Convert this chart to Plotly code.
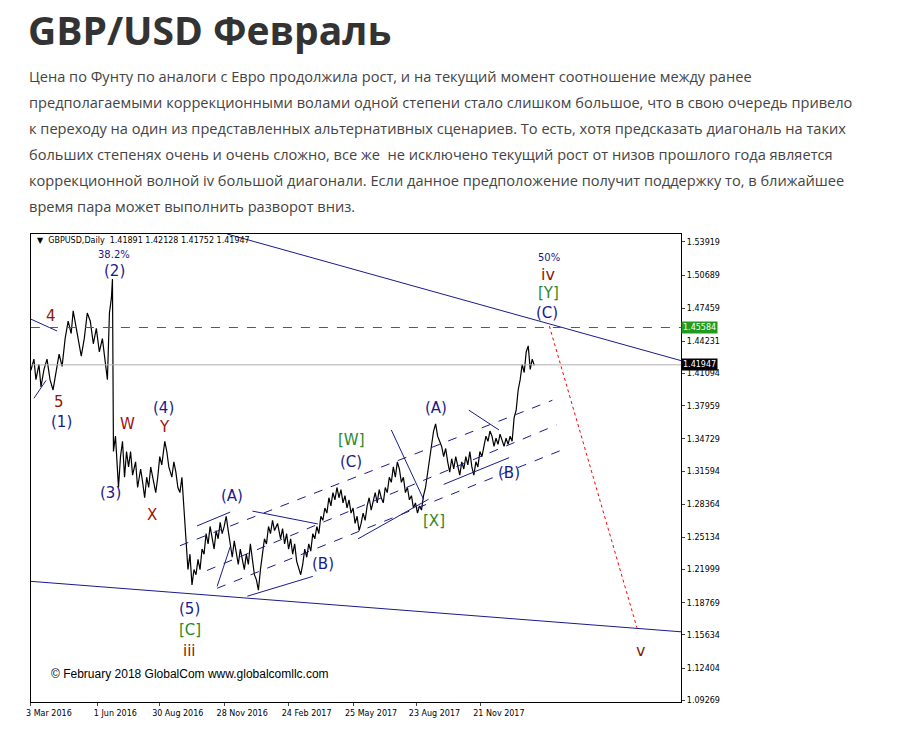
import plotly.graph_objects as go

W, H = 912, 729
OFF = 8  # browser body margin
FW, FH = W - 2 * OFF, H - 2 * OFF

# ---- data (bar index, close) ----
bars = [0, 3, 5, 8, 10, 13, 16, 19, 22, 25, 28, 31, 34, 37, 40, 42, 45, 48, 50, 53, 56, 59, 62, 65, 68, 71, 74, 76,
        78, 80, 81, 82, 84, 86, 87, 89, 91, 93, 95, 97, 99, 101, 104, 106, 109, 111, 113, 115, 117, 119, 122, 124,
        126, 128, 130, 133, 135, 137, 140, 142, 144, 146, 148, 150, 152, 154, 156, 158, 160, 162, 164, 166, 168,
        170, 172, 174, 176, 178, 180, 182, 184, 186, 188, 190, 192, 194, 196, 198, 200, 202, 204, 206, 208, 210,
        212, 214, 216, 218, 220, 222, 224, 226, 228, 230, 232, 234, 236, 238, 240, 242, 245, 248, 250, 252, 254,
        256, 258, 260, 262, 264, 266, 268, 270, 272, 274, 276, 278, 280, 282, 284, 286, 288, 290, 292, 294, 296,
        298, 300, 302, 304, 306, 308, 310, 312, 314, 316, 318, 320, 322, 324, 326, 328, 330, 332, 334, 336, 338,
        340, 342, 344, 346, 348, 350, 352, 354, 356, 358, 360, 362, 364, 366, 368, 370, 372, 374, 376, 378, 380,
        382, 384, 386, 388, 390, 392, 394, 396, 398, 400, 402, 404, 406, 408, 410, 412, 414, 416, 418, 420, 422,
        424, 426, 428, 430, 432, 434, 436, 438, 440, 442, 444, 446, 448, 450, 452, 454, 456, 458, 460, 462, 464,
        466, 468, 470, 472, 474, 476, 478, 480, 482, 484, 486, 488, 490, 492, 494, 496, 498, 500]
closes = [1.414, 1.425, 1.405, 1.420, 1.398, 1.415, 1.425, 1.405, 1.395, 1.412, 1.430, 1.418, 1.445, 1.462, 1.450,
          1.472, 1.455, 1.440, 1.428, 1.445, 1.470, 1.462, 1.440, 1.455, 1.432, 1.445, 1.420, 1.405,
          1.470, 1.485, 1.503, 1.335, 1.350, 1.320, 1.300, 1.330, 1.345, 1.310, 1.335, 1.320, 1.335, 1.312, 1.325,
          1.300, 1.318, 1.305, 1.290, 1.310, 1.300, 1.320, 1.305, 1.295,
          1.310, 1.330, 1.322, 1.345, 1.335, 1.320, 1.310, 1.325, 1.315, 1.300, 1.295, 1.310, 1.280, 1.250, 1.220,
          1.235, 1.205, 1.220, 1.215, 1.230, 1.220,
          1.240, 1.235, 1.255, 1.245, 1.262, 1.250, 1.240, 1.258, 1.250, 1.266, 1.255, 1.262, 1.272, 1.258, 1.245,
          1.232, 1.248, 1.238, 1.225, 1.240, 1.228,
          1.220, 1.235, 1.225, 1.245, 1.230, 1.215, 1.210, 1.200, 1.220, 1.235, 1.250, 1.245, 1.262, 1.255, 1.268,
          1.258, 1.265, 1.250, 1.260, 1.245, 1.255,
          1.240, 1.250, 1.235, 1.245, 1.228, 1.222, 1.215, 1.225, 1.240, 1.232, 1.245, 1.238, 1.255, 1.250, 1.262,
          1.255, 1.272, 1.268, 1.280, 1.275, 1.290,
          1.282, 1.295, 1.288, 1.300, 1.290, 1.298, 1.285, 1.292, 1.280, 1.288, 1.275, 1.280, 1.265, 1.272, 1.258,
          1.265, 1.275, 1.268, 1.282, 1.290, 1.278,
          1.288, 1.295, 1.285, 1.298, 1.290, 1.285, 1.300, 1.295, 1.310, 1.305, 1.320, 1.310, 1.325, 1.318, 1.305,
          1.310, 1.295, 1.300, 1.288, 1.292, 1.280,
          1.285, 1.275, 1.282, 1.278, 1.292, 1.300, 1.315, 1.330, 1.345, 1.355, 1.362, 1.350, 1.345, 1.340, 1.330,
          1.338, 1.325, 1.315, 1.328, 1.318, 1.330,
          1.320, 1.312, 1.325, 1.318, 1.330, 1.322, 1.335, 1.320, 1.312, 1.325, 1.320, 1.335, 1.330, 1.342, 1.350,
          1.345, 1.355, 1.350, 1.340, 1.348, 1.342,
          1.352, 1.345, 1.340, 1.348, 1.342, 1.350, 1.345, 1.368, 1.375, 1.395, 1.405, 1.420, 1.412, 1.432, 1.438,
          1.415, 1.425, 1.419]

price_ticks = [1.53919, 1.50689, 1.47459, 1.44231, 1.41094, 1.37959, 1.34729, 1.31594, 1.28364, 1.25134,
               1.21999, 1.18769, 1.15634, 1.12404, 1.09269]
date_ticks = [0, 66, 128, 192, 256, 320, 383, 447]
date_labels = ["3 Mar 2016", "1 Jun 2016", "30 Aug 2016", "28 Nov 2016", "24 Feb 2017",
               "25 May 2017", "23 Aug 2017", "21 Nov 2017"]
level_target = 1.45584
last_close = 1.41947

paragraph = [
    "Цена по Фунту по аналоги с Евро продолжила рост, и на текущий момент соотношение между ранее",
    "предполагаемыми коррекционными волами одной степени стало слишком большое, что в свою очередь привело",
    "к переходу на один из представленных альтернативных сценариев. То есть, хотя предсказать диагональ на таких",
    "больших степенях очень и очень сложно, все же  не исключено текущий рост от низов прошлого года является",
    "коррекционной волной iv большой диагонали. Если данное предположение получит поддержку то, в ближайшее",
    "время пара может выполнить разворот вниз.",
]

# target pixel frame of the chart (reference) and the layout-domain values that produce it
L, R, T, B = 30, 676, 232, 705
DL, DR, DT, DB = 26, 680, 235, 705


def pr(y):  # pixel row -> price
    return 1.53919 - (y - 240) * 0.000964


def bx(x):  # pixel column -> bar
    return x - 30


def line(x0, y0, x1, y1, color="#1a1a8c", dash="solid", width=1):
    return dict(type="line", xref="x", yref="y", x0=bx(x0), y0=pr(y0), x1=bx(x1), y1=pr(y1),
                line=dict(color=color, dash=dash, width=width))


fig = go.Figure()
fig.add_trace(go.Scatter(x=bars, y=closes, mode="lines", line=dict(color="black", width=1.2),
                         hoverinfo="skip", showlegend=False))

shapes = [
    line(225, 232, 676, 360),
    line(30, 318, 56, 330),
    line(30, 583, 676, 634),
    dict(type="line", xref="x domain", yref="y", x0=0, x1=1, y0=last_close, y1=last_close,
         line=dict(color="#b0b0b0", width=1)),
    dict(type="line", xref="x domain", yref="y", x0=0, x1=1, y0=level_target, y1=level_target,
         line=dict(color="#2a7a2a", dash="dash", width=1)),
    line(545, 325, 632, 630, color="red", dash="dot"),
    line(178, 547, 548, 400, dash="dash"),
    line(205, 572, 552, 425, dash="dash"),
    line(215, 590, 558, 450, dash="dash"),
    line(195, 527, 228, 513), line(245, 598, 310, 578), line(250, 512, 315, 525),
    line(355, 540, 425, 500), line(440, 485, 505, 458), line(465, 410, 495, 430),
    line(388, 430, 420, 500), line(215, 588, 228, 548), line(33, 398, 45, 380),
]

NAVY, RED, GREEN, BROWN = "#1a1a8c", "#a01010", "#2a8a2a", "#8b1a00"
labels = [
    ("38.2%", 113, 253, NAVY, 10), ("(2)", 113, 269, NAVY, 15), ("4", 50, 315, BROWN, 15),
    ("5", 58, 402, BROWN, 15), ("(1)", 60, 422, NAVY, 15), ("W", 126, 424, RED, 15),
    ("(4)", 162, 408, NAVY, 15), ("Y", 163, 427, RED, 15), ("(3)", 109, 494, NAVY, 15),
    ("X", 150, 516, RED, 15), ("(A)", 230, 497, NAVY, 15), ("(5)", 188, 611, NAVY, 15),
    ("[C]", 188, 632, GREEN, 15), ("iii", 188, 653, BROWN, 15), ("(B)", 320, 565, NAVY, 15),
    ("[W]", 348, 440, GREEN, 15), ("(C)", 348, 462, NAVY, 15), ("[X]", 430, 522, GREEN, 15),
    ("(A)", 432, 408, NAVY, 15), ("(B)", 505, 473, NAVY, 15), ("50%", 545, 256, NAVY, 10),
    ("iv", 544, 273, BROWN, 16), ("[Y]", 544, 292, GREEN, 15), ("(C)", 543, 312, NAVY, 15),
    ("v", 636, 653, BROWN, 16),
]
ann = [dict(text=t, x=bx(x), y=pr(y), xref="x", yref="y", showarrow=False,
            font=dict(family="DejaVu Sans", size=s, color=c)) for t, x, y, c, s in labels]

ann.append(dict(text="© February 2018 GlobalCom www.globalcomllc.com", x=bx(48), y=pr(677), xref="x", yref="y",
                xanchor="left", showarrow=False, font=dict(family="Arial, Liberation Sans", size=12, color="black")))
ann.append(dict(text="▼  GBPUSD,Daily  1.41891 1.42128 1.41752 1.41947", x=bx(34), y=pr(239), xref="x", yref="y",
                xanchor="left", showarrow=False, font=dict(family="DejaVu Sans", size=8, color="black")))
for val, bg in [(level_target, "#1f9c1f"), (last_close, "black")]:
    ann.append(dict(text=f"{val:.5f}", xref="x domain", yref="y", x=1.0, y=val, xanchor="left", showarrow=False,
                    bgcolor=bg, borderpad=1, font=dict(family="DejaVu Sans", size=8, color="white")))

# page text
ann.append(dict(text="<b>GBP/USD Февраль</b>", xref="paper", yref="paper", x=(21 - OFF) / FW,
                y=1 - (30 - OFF) / FH, xanchor="left", yanchor="middle", showarrow=False,
                font=dict(family="Open Sans", size=39, color="#333333")))
for i, ln in enumerate(paragraph):
    ann.append(dict(text=ln, xref="paper", yref="paper", x=(22 - OFF) / FW, y=1 - (76 + 26.2 * i - OFF) / FH,
                    xanchor="left", yanchor="middle", showarrow=False,
                    font=dict(family="Open Sans", size=14.6, color="#444444")))

fig.update_layout(
    width=FW, height=FH, margin=dict(l=0, r=0, t=0, b=0),
    paper_bgcolor="white", plot_bgcolor="white",
    shapes=shapes, annotations=ann,
    xaxis=dict(domain=[(DL - OFF) / FW, (DR - OFF) / FW], range=[0, R - L], showgrid=False, zeroline=False,
               showline=True, mirror=True, linecolor="black", linewidth=1,
               tickvals=date_ticks, ticktext=date_labels, ticks="outside", ticklen=3,
               ticklabelshift=18, tickfont=dict(family="DejaVu Sans", size=8, color="black")),
    yaxis=dict(domain=[1 - (DB - OFF) / FH, 1 - (DT - OFF) / FH], range=[pr(B), pr(T)], side="right",
               showgrid=False, zeroline=False, showline=True, mirror=True, linecolor="black", linewidth=1,
               tickvals=price_ticks, ticktext=[f"{v:.5f}" for v in price_ticks], ticks="outside",
               ticklen=3, tickfont=dict(family="DejaVu Sans", size=8, color="black")),
)

fig.write_html("out.html")
